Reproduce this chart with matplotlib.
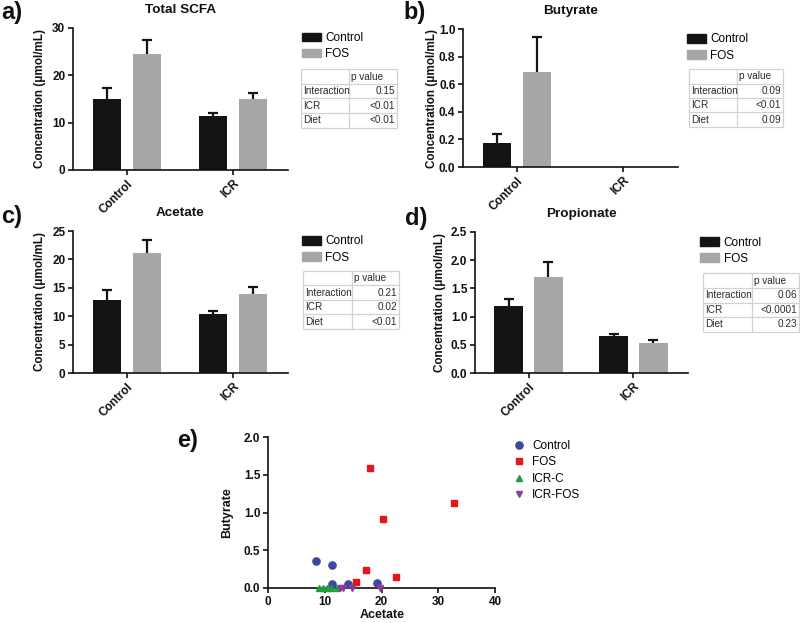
import matplotlib

matplotlib.use("Agg")
import matplotlib.pyplot as plt
import numpy as np
from matplotlib.patches import Patch

plt.rcParams["font.family"] = ["Liberation Sans", "DejaVu Sans"]

W, H = 800, 623

groups = ["Control", "ICR"]
diets = ["Control", "FOS"]

scfa_ctrl = [15.1, 11.5]
scfa_ctrl_err = [2.2, 0.5]
scfa_fos = [24.6, 15.0]
scfa_fos_err = [2.9, 1.2]

but_ctrl = [0.172, 0.0]
but_ctrl_err = [0.066, 0.0]
but_fos = [0.69, 0.0]
but_fos_err = [0.25, 0.0]

ace_ctrl = [12.85, 10.4]
ace_ctrl_err = [1.75, 0.55]
ace_fos = [21.05, 13.9]
ace_fos_err = [2.45, 1.2]

pro_ctrl = [1.18, 0.66]
pro_ctrl_err = [0.13, 0.025]
pro_fos = [1.70, 0.54]
pro_fos_err = [0.27, 0.05]

p_labels = ["Interaction", "ICR", "Diet"]
scfa_p = ["0.15", "<0.01", "<0.01"]
but_p = ["0.09", "<0.01", "0.09"]
ace_p = ["0.21", "0.02", "<0.01"]
pro_p = ["0.06", "<0.0001", "0.23"]

# panel e: acetate vs butyrate per animal
ctrl_ace = [8.5, 11.2, 11.3, 14.1, 19.2]
ctrl_but = [0.36, 0.30, 0.05, 0.05, 0.06]
fos_ace = [17.9, 32.7, 20.2, 17.3, 22.6, 15.5]
fos_but = [1.59, 1.12, 0.92, 0.24, 0.15, 0.08]
icrc_ace = [9.0, 9.7, 10.4, 11.1, 12.2]
icrc_but = [0.0, 0.0, 0.0, 0.0, 0.0]
icrfos_ace = [12.7, 13.3, 14.8, 19.8]
icrfos_but = [0.0, 0.0, 0.0, 0.0]

BLACK = "#161412"
GREY = "#a6a6a6"
TXT = "#111111"


def rect(x0, y0, x1, y1):
    return [x0 / W, 1 - y1 / H, (x1 - x0) / W, (y1 - y0) / H]


def style_axes(ax):
    for side in ("top", "right"):
        ax.spines[side].set_visible(False)
    for side in ("left", "bottom"):
        ax.spines[side].set_linewidth(1.2)
        ax.spines[side].set_color(TXT)
    ax.tick_params(width=1.2, length=3.5, labelsize=8.5, colors=TXT, pad=2)
    for lab in ax.get_yticklabels() + ax.get_xticklabels():
        lab.set_fontweight("bold")


def bar_panel(fig, box, title, ctrl, ctrl_err, fos, fos_err, ymax, ystep, ylab_x):
    ax = fig.add_axes(rect(*box))
    x = np.arange(len(groups))
    off, width = 0.19, 0.27
    ax.bar(x - off, ctrl, width, color=BLACK, zorder=2)
    ax.bar(x + off, fos, width, color=GREY, zorder=2)
    for xs, m, e in ((x - off, ctrl, ctrl_err), (x + off, fos, fos_err)):
        m = np.array(m)
        keep = m > 0
        eb = ax.errorbar(xs[keep], m[keep], yerr=[np.zeros(keep.sum()), np.array(e)[keep]],
                         fmt="none", ecolor=BLACK, elinewidth=1.6, capsize=3.6, capthick=1.6, zorder=3)
        # only the upper cap, like the original plot
        for cap in eb[1]:
            if np.allclose(cap.get_ydata(), m[keep]):
                cap.set_visible(False)
    ax.set_xlim(-0.51, 1.52)
    ax.set_ylim(0, ymax)
    ax.set_yticks(np.arange(0, ymax + ystep / 2, ystep))
    if ystep < 1:
        ax.set_yticklabels([f"{v:.1f}" for v in ax.get_yticks()])
    ax.set_xticks(x)
    ax.set_xticklabels(groups, rotation=45, ha="right", va="top", rotation_mode="anchor")
    ax.set_title(title, fontsize=9.7, fontweight="bold", pad=11, color=TXT)
    ax.set_ylabel("Concentration (μmol/mL)", fontsize=8.4, fontweight="bold", color=TXT)
    yc = (box[1] + box[3]) / 2
    ax.yaxis.set_label_coords(ylab_x / W, 1 - yc / H, transform=fig.transFigure)
    style_axes(ax)
    return ax


def bar_legend(fig, ax, x, y):
    handles = [Patch(color=BLACK), Patch(color=GREY)]
    ax.legend(handles, diets, loc="upper left", bbox_to_anchor=(x / W, 1 - y / H),
              bbox_transform=fig.transFigure, frameon=False, fontsize=8.5,
              handlelength=1.6, handleheight=0.75, handletextpad=0.4,
              labelspacing=0.35, borderpad=0, borderaxespad=0)


def p_table(fig, box, split, values):
    x0, y0, x1, y1 = box
    ax = fig.add_axes(rect(*box))
    ax.set_xlim(x0, x1)
    ax.set_ylim(y1, y0)
    ax.axis("off")
    rows = len(values) + 1
    ys = np.linspace(y0, y1, rows + 1)
    edge = "#d2d2d2"
    ax.hlines(ys, x0, x1, colors=edge, lw=0.9, clip_on=False)
    ax.vlines([x0, split, x1], y0, y1, colors=edge, lw=0.9, clip_on=False)
    kw = dict(fontsize=7.2, color="#2a2a2a", va="center")
    ax.text(split + 2, (ys[0] + ys[1]) / 2, "p value", ha="left", **kw)
    for i, (lab, val) in enumerate(zip(p_labels, values), start=1):
        yc = (ys[i] + ys[i + 1]) / 2
        ax.text(x0 + 2, yc, lab, ha="left", **kw)
        ax.text(x1 - 2, yc, val, ha="right", **kw)


fig = plt.figure(figsize=(W / 100, H / 100), dpi=100)

ax_a = bar_panel(fig, (73, 28, 288, 170), "Total SCFA", scfa_ctrl, scfa_ctrl_err,
                 scfa_fos, scfa_fos_err, 30, 10, 46)
bar_legend(fig, ax_a, 301.7, 32)
p_table(fig, (301, 69.3, 397, 127.7), 349, scfa_p)

ax_b = bar_panel(fig, (463, 29, 678, 167), "Butyrate", but_ctrl, but_ctrl_err,
                 but_fos, but_fos_err, 1.0, 0.2, 437.7)
bar_legend(fig, ax_b, 686.7, 33.5)
p_table(fig, (689.3, 69.3, 783.3, 126.7), 737.3, but_p)

ax_c = bar_panel(fig, (73, 231, 288, 373), "Acetate", ace_ctrl, ace_ctrl_err,
                 ace_fos, ace_fos_err, 25, 5, 46)
bar_legend(fig, ax_c, 301.7, 235.5)
p_table(fig, (303, 270.7, 399.3, 329), 352.3, ace_p)

ax_d = bar_panel(fig, (475, 232, 688, 373), "Propionate", pro_ctrl, pro_ctrl_err,
                 pro_fos, pro_fos_err, 2.5, 0.5, 445.7)
bar_legend(fig, ax_d, 700, 236.5)
p_table(fig, (703.3, 273.3, 799, 331.7), 751.7, pro_p)

# panel e
ax_e = fig.add_axes(rect(268, 437, 495, 588))
ax_e.plot(ctrl_ace, ctrl_but, "o", color="#3b4a9e", ms=5.2, ls="none", label="Control", clip_on=False, zorder=3)
ax_e.plot(fos_ace, fos_but, "s", color="#e8141c", ms=5, ls="none", label="FOS", clip_on=False, zorder=3)
ax_e.plot(icrc_ace, icrc_but, "^", color="#1f9e3c", ms=4.6, ls="none", label="ICR-C", clip_on=False, zorder=3)
ax_e.plot(icrfos_ace, icrfos_but, "v", color="#8a3d96", ms=4.6, ls="none", label="ICR-FOS", clip_on=False, zorder=3)
ax_e.set_xlim(0, 40)
ax_e.set_ylim(0, 2.0)
ax_e.set_xticks([0, 10, 20, 30, 40])
ax_e.set_yticks([0, 0.5, 1.0, 1.5, 2.0])
ax_e.set_yticklabels(["0.0", "0.5", "1.0", "1.5", "2.0"])
ax_e.set_xlabel("Acetate", fontsize=9, fontweight="bold", color=TXT)
ax_e.set_ylabel("Butyrate", fontsize=9, fontweight="bold", color=TXT)
ax_e.yaxis.set_label_coords(233 / W, 1 - 513 / H, transform=fig.transFigure)
ax_e.xaxis.set_label_coords(382 / W, 1 - 609 / H, transform=fig.transFigure)
style_axes(ax_e)
ax_e.legend(loc="upper left", bbox_to_anchor=(513 / W, 1 - 440 / H), bbox_transform=fig.transFigure,
            frameon=False, fontsize=8.5, handlelength=1.0, handletextpad=0.6,
            labelspacing=0.38, borderpad=0, borderaxespad=0)

# panel letters
for lab, x, y in (("a)", 1, 12), ("b)", 403, 12), ("c)", 1, 216), ("d)", 405, 219), ("e)", 177, 440)):
    fig.text(x / W, 1 - y / H, lab, fontsize=17, fontweight="bold", color=TXT, ha="left", va="center")

fig.savefig("out.png", dpi=100)
